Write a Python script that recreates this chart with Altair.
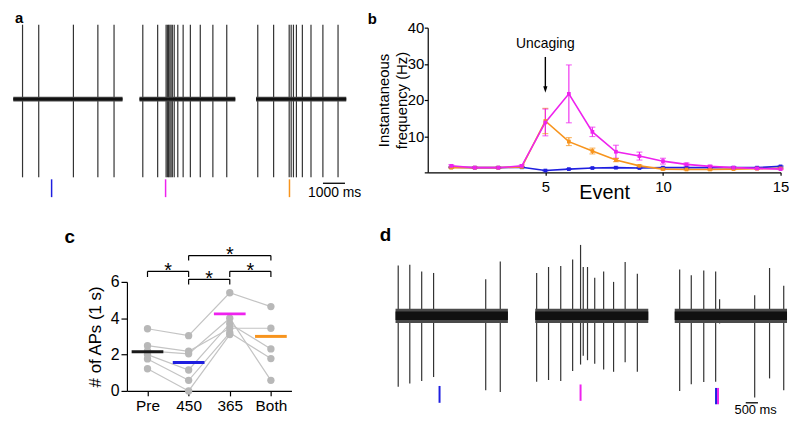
import altair as alt
import pandas as pd

FONT = "Liberation Sans"
BLUE = "#2233dd"
MAGENTA = "#ee22ee"
ORANGE = "#f39a3c"
TRACE = "#111111"
TRACE_EDGE = "#4a4a4a"
SPIKE = "#333333"
GRAY_DOT = "#b8b8b8"
GRAY_LINE = "#c4c4c4"

# ---------------- panel a : three sweeps (time ms, amplitude uV) ----------------
A_SWEEP_START = [240, 5970, 11263]
A_SWEEP_END = [5200, 10320, 15358]
A_SPIKES = [
    [660, 1395, 2970, 4080, 4815],
    [6120, 6795, 7178, 7236, 7290, 7349, 7403, 7461, 7547, 7709, 7952, 8280, 8730, 9302, 9932],
    [11340, 12060, 12767, 12857, 12960, 13095, 13365, 13757, 14297, 14985],
]
A_SPIKE_PEAK = 75
A_SPIKE_TROUGH = -79
A_NOISE_OUTER = [-2.6, 2.4]
A_NOISE_INNER = [-1.4, 1.2]
A_STIM_TIME = [1980, 7155, 12780]
A_STIM_COND = ["450", "365", "Both"]
A_STIM_TOP = [-81, -81, -81]
A_STIM_BOTTOM = [-99, -99, -99]
A_BAR = [14300, 15300]
A_BAR_LEVEL = -85
A_BAR_TEXT = "1000 ms"
A_BAR_TEXT_T = 14830
A_BAR_TEXT_LEVEL = -95
A_X_DOMAIN = [0, 16290]
A_Y_DOMAIN = [-74, 72]

# ---------------- panel b : instantaneous frequency ----------------
EVENTS = [1, 2, 3, 4, 5, 6, 7, 8, 9, 10, 11, 12, 13, 14, 15]
FREQ_365 = [1.8, 1.3, 1.3, 1.8, 13.8, 21.7, 11.2, 5.7, 4.5, 3.1, 2.2, 1.65, 1.3, 1.1, 0.9]
SEM_365 = [0.3, 0.15, 0.15, 0.3, 3.7, 8.0, 1.3, 1.8, 1.1, 0.8, 0.4, 0.3, 0.2, 0.2, 0.15]
FREQ_BOTH = [1.3, 1.3, 1.3, 1.5, 14.2, 8.5, 5.9, 3.4, 1.8, 0.9, 0.8, 0.8, 0.9, 1.0, 1.1]
SEM_BOTH = [0.15, 0.1, 0.1, 0.2, 3.5, 1.1, 0.8, 0.45, 0.25, 0.2, 0.15, 0.15, 0.15, 0.15, 0.15]
FREQ_450 = [1.4, 1.3, 1.3, 1.4, 0.5, 0.9, 1.2, 1.3, 1.2, 1.3, 1.3, 1.3, 1.3, 1.3, 1.65]
SEM_450 = [0.1, 0.1, 0.1, 0.1, 0.1, 0.1, 0.1, 0.1, 0.1, 0.1, 0.1, 0.1, 0.1, 0.1, 0.15]
ARROW_EVENT = 5
ARROW_FROM = 31.9
ARROW_HEAD = 22.9
ARROW_TEXT_LEVEL = 35.5
ARROW_TEXT = "Uncaging"
B_Y_TICKS = [0, 10, 20, 30, 40]
B_X_TICKS = [5, 10, 15]

# ---------------- panel c : # of APs ----------------
CONDITIONS = ["Pre", "450", "365", "Both"]
COND_COLORS = ["#1a1a1a", "#1f1fe0", "#ee22ee", "#f7941d"]
CELL_PRE = [3.42, 2.49, 2.2, 2.0, 1.76, 1.22]
CELL_450 = [3.04, 2.18, 2.04, 1.15, 0.58, 0.0]
CELL_365 = [5.4, 3.45, 4.0, 3.7, 3.2, 3.1]
CELL_BOTH = [4.64, 3.45, 0.58, 2.31, 1.78, None]
MEAN_APS = [2.16, 1.56, 4.24, 3.0]
BRACKET_LEFT = ["Pre", "450", "365", "450"]
BRACKET_RIGHT = ["450", "365", "Both", "Both"]
BRACKET_LEVEL = [6.58, 6.14, 6.58, 7.45]
BRACKET_DROP = [6.27, 5.85, 6.27, 7.18]
C_Y_TICKS = [0, 2, 4, 6]

# ---------------- panel d : three sweeps ----------------
D_SWEEP_START = [610, 6341, 12061]
D_SWEEP_END = [5219, 10976, 16667]
D_SPIKE_T = [720, 1195, 1683, 2171, 4309, 4906,
             6398, 6886, 7386, 7874, 8199, 8309, 8484, 8780, 9146, 9553, 10028, 10528,
             12264, 12740, 13252, 13740, 13902, 15341, 15951, 16532]
D_SPIKE_PEAK = [50.6, 51.3, 44.6, 43, 36.6, 54.6,
                43, 49, 50, 56.6, 71.3, 49, 49, 38.3, 44.6, 34, 54, 42.3,
                46.6, 40.6, 45.6, 44.6, 16.6, 20.6, 48, 30]
D_SPIKE_TROUGH = [-71.7, -68.4, -66, -62, -75.4, -77,
                  -66.7, -65, -66, -56, -49.4, -40.4, -45, -48.7, -54.4, -56.7, -47, -56.7,
                  -76, -69.4, -67, -66.7, -8, -82.7, -63.4, -75.4]
D_NOISE_OUTER = [-7.5, 7]
D_NOISE_INNER = [-4.5, 4]
D_STIM_TIME = [2415, 8199, 13756, 13837]
D_STIM_COND = ["450", "365", "450", "365"]
D_STIM_TOP = [-71, -69.5, -73, -73]
D_STIM_BOTTOM = [-88, -86, -89.5, -89.5]
D_BAR = [14975, 15475]
D_BAR_LEVEL = -88
D_BAR_TEXT = "500 ms"
D_BAR_TEXT_T = 15380
D_BAR_TEXT_LEVEL = -95.5
D_X_DOMAIN = [0, 16667]
D_Y_DOMAIN = [-76, 34]

cond_scale = alt.Scale(domain=CONDITIONS, range=COND_COLORS)


def letter(text, size, offset, dx, dy):
    return alt.TitleParams(text=text, anchor="start", frame="group", fontSize=size,
                           fontWeight="bold", baseline="alphabetic", offset=offset,
                           dx=dx, dy=dy, font=FONT, color="black")


def sweep_panel(starts, ends, spikes, noise_outer, noise_inner, stims, bar, bar_level, bar_text,
                bar_text_t, bar_text_level, xdom, ydom, width, height, stim_width, text_size, title):
    xs = alt.Scale(domain=xdom, nice=False, zero=False)
    ys = alt.Scale(domain=ydom, nice=False, zero=False)
    sweeps = pd.DataFrame({"start": starts, "end": ends,
                           "olo": noise_outer[0], "ohi": noise_outer[1],
                           "ilo": noise_inner[0], "ihi": noise_inner[1]})
    spike_layer = alt.Chart(spikes).mark_rule(color=SPIKE, strokeWidth=1.2).encode(
        x=alt.X("t:Q", scale=xs, axis=None),
        y=alt.Y("peak:Q", scale=ys, axis=None), y2="trough:Q")
    outer_layer = alt.Chart(sweeps).mark_rect(color=TRACE_EDGE).encode(
        x=alt.X("start:Q", scale=xs, axis=None), x2="end:Q",
        y=alt.Y("olo:Q", scale=ys, axis=None), y2="ohi:Q")
    inner_layer = alt.Chart(sweeps).mark_rect(color=TRACE).encode(
        x=alt.X("start:Q", scale=xs, axis=None), x2="end:Q",
        y=alt.Y("ilo:Q", scale=ys, axis=None), y2="ihi:Q")
    stim_layer = alt.Chart(stims).mark_rule(strokeWidth=stim_width).encode(
        x=alt.X("t:Q", scale=xs, axis=None),
        y=alt.Y("top:Q", scale=ys, axis=None), y2="bottom:Q",
        color=alt.Color("cond:N", scale=cond_scale, legend=None))
    bar_df = pd.DataFrame({"t0": [bar[0]], "t1": [bar[1]], "level": [bar_level],
                           "tt": [bar_text_t], "tl": [bar_text_level], "label": [bar_text]})
    bar_layer = alt.Chart(bar_df).mark_rule(color="black", strokeWidth=1.3).encode(
        x=alt.X("t0:Q", scale=xs, axis=None), x2="t1:Q",
        y=alt.Y("level:Q", scale=ys, axis=None))
    text_layer = alt.Chart(bar_df).mark_text(fontSize=text_size, baseline="middle", align="center",
                                             font=FONT, color="black").encode(
        x=alt.X("tt:Q", scale=xs, axis=None),
        y=alt.Y("tl:Q", scale=ys, axis=None), text="label:N")
    return alt.layer(spike_layer, outer_layer, inner_layer, stim_layer, bar_layer,
                     text_layer).properties(width=width, height=height, title=title)


# ---- panel a
a_spikes = pd.DataFrame({
    "t": [t for sw in A_SPIKES for t in sw],
    "peak": A_SPIKE_PEAK, "trough": A_SPIKE_TROUGH})
a_stims = pd.DataFrame({"t": A_STIM_TIME, "cond": A_STIM_COND, "top": A_STIM_TOP, "bottom": A_STIM_BOTTOM})
panel_a = sweep_panel(A_SWEEP_START, A_SWEEP_END, a_spikes, A_NOISE_OUTER, A_NOISE_INNER, a_stims,
                      A_BAR, A_BAR_LEVEL, A_BAR_TEXT, A_BAR_TEXT_T, A_BAR_TEXT_LEVEL,
                      A_X_DOMAIN, A_Y_DOMAIN, 362, 146, 1.5, 14, letter("a", 15, 2.4, 7, 16))

# ---- panel b
rows = []
for cond, fr, se in [("450", FREQ_450, SEM_450), ("Both", FREQ_BOTH, SEM_BOTH), ("365", FREQ_365, SEM_365)]:
    for e, f, s in zip(EVENTS, fr, se):
        rows.append({"event": e, "freq": f, "lo": f - s, "hi": f + s, "cond": cond})
b_df = pd.DataFrame(rows)

bx = alt.Scale(domain=[0, 15], nice=False, zero=False)
by = alt.Scale(domain=[0, 40], nice=False)
b_x_axis = alt.Axis(values=B_X_TICKS, title="Event", titleFontSize=20, titleFontWeight="normal",
                    labelFontSize=15, tickSize=3, labelPadding=4, titlePadding=-12, grid=False,
                    labelAngle=0, labelOverlap=False, labelFlush=False)
b_y_axis = alt.Axis(values=B_Y_TICKS, tickCount=5, labelExpr="datum.value == 0 ? '' : datum.label",
                    title=["Instantaneous", "frequency (Hz)"], titleFontSize=15, titleFontWeight="normal",
                    titleLineHeight=18, labelFontSize=15, tickSize=3.5, labelPadding=0.5,
                    titlePadding=-2, grid=False, labelOverlap=False, labelFlush=False,
                    labelBound=False)


def bX(field):
    return alt.X(field, type="quantitative", scale=bx, axis=b_x_axis)


def bY(field):
    return alt.Y(field, type="quantitative", scale=by, axis=b_y_axis)


bcolor = alt.Color("cond:N", scale=cond_scale, legend=None)
b_base = alt.Chart(b_df)
b_err = b_base.mark_rule(strokeWidth=1.1).encode(x=bX("event"), y=bY("lo"), y2="hi:Q", color=bcolor)
b_cap_lo = b_base.mark_tick(orient="horizontal", size=6, thickness=1.1).encode(
    x=bX("event"), y=bY("lo"), color=bcolor)
b_cap_hi = b_base.mark_tick(orient="horizontal", size=6, thickness=1.1).encode(
    x=bX("event"), y=bY("hi"), color=bcolor)
b_line = b_base.mark_line(strokeWidth=1.6).encode(x=bX("event"), y=bY("freq"), color=bcolor)
b_pts = b_base.mark_square(size=14, opacity=1).encode(x=bX("event"), y=bY("freq"), color=bcolor)

arrow_df = pd.DataFrame({"event": [ARROW_EVENT], "y0": [ARROW_FROM], "y1": [ARROW_HEAD],
                         "ty": [ARROW_TEXT_LEVEL], "label": [ARROW_TEXT]})
b_shaft = alt.Chart(arrow_df).mark_rule(color="black", strokeWidth=1.4).encode(
    x=bX("event"), y=bY("y0"), y2="y1:Q")
b_head = alt.Chart(arrow_df).mark_point(shape="M -0.32,-0.5 L 0.32,-0.5 L 0,0.5 Z", filled=True,
                                        size=169, color="black", opacity=1).encode(
    x=bX("event"), y=bY("y1"))
b_text = alt.Chart(arrow_df).mark_text(fontSize=14, baseline="middle", align="center",
                                       font=FONT, color="black").encode(
    x=bX("event"), y=bY("ty"), text="label:N")

panel_b = alt.layer(b_err, b_cap_lo, b_cap_hi, b_line, b_pts, b_shaft, b_head, b_text).properties(
    width=356, height=146, title=letter("b", 15, -1, -60.5, 17))

# ---- panel c
c_rows = []
for cond, vals in zip(CONDITIONS, [CELL_PRE, CELL_450, CELL_365, CELL_BOTH]):
    for i, v in enumerate(vals):
        if v is not None:
            c_rows.append({"cell": i, "pos": CONDITIONS.index(cond) + 0.5, "aps": v, "cond": cond})
c_df = pd.DataFrame(c_rows)
m_df = pd.DataFrame({"pos": [CONDITIONS.index(c) + 0.5 for c in CONDITIONS], "aps": MEAN_APS,
                     "cond": CONDITIONS})
br_df = pd.DataFrame({"x1": [CONDITIONS.index(c) + 0.5 for c in BRACKET_LEFT],
                      "x2": [CONDITIONS.index(c) + 0.5 for c in BRACKET_RIGHT],
                      "level": BRACKET_LEVEL, "drop": BRACKET_DROP})
ends_df = pd.concat([br_df[["x1", "level", "drop"]].rename(columns={"x1": "x"}),
                     br_df[["x2", "level", "drop"]].rename(columns={"x2": "x"})])

cx = alt.Scale(domain=[0, 4], nice=False, zero=False)
cy = alt.Scale(domain=[0, 6], nice=False)
c_x_axis = alt.Axis(values=[0.5, 1.5, 2.5, 3.5],
                    labelExpr="['Pre','450','365','Both'][floor(datum.value)]",
                    title=None, labelFontSize=15.5, tickSize=5, labelPadding=2.5, grid=False,
                    labelAngle=0, labelOverlap=False, labelFlush=False)
c_y_axis = alt.Axis(values=C_Y_TICKS, tickCount=4, title="# of APs (1 s)", titleFontSize=17,
                    titleFontWeight="normal", labelFontSize=16, tickSize=6, labelPadding=2,
                    titlePadding=6, grid=False, labelOverlap=False, labelFlush=False,
                    labelBound=False)


def cX(field):
    return alt.X(field, type="quantitative", scale=cx, axis=c_x_axis)


def cY(field):
    return alt.Y(field, type="quantitative", scale=cy, axis=c_y_axis)


c_lines = alt.Chart(c_df).mark_line(color=GRAY_LINE, strokeWidth=1.2).encode(
    x=cX("pos"), y=cY("aps"), detail="cell:N")
c_pts = alt.Chart(c_df).mark_circle(size=55, color=GRAY_DOT, opacity=1).encode(
    x=cX("pos"), y=cY("aps"))
c_means = alt.Chart(m_df).mark_tick(orient="horizontal", size=32, thickness=3, opacity=1).encode(
    x=cX("pos"), y=cY("aps"), color=alt.Color("cond:N", scale=cond_scale, legend=None))
c_br = alt.Chart(br_df).mark_rule(color="black", strokeWidth=1.2).encode(
    x=cX("x1"), x2="x2:Q", y=cY("level"))
c_ends = alt.Chart(ends_df).mark_rule(color="black", strokeWidth=1.2).encode(
    x=cX("x"), y=cY("level"), y2="drop:Q")
c_stars = alt.Chart(br_df).transform_calculate(mid="(datum.x1 + datum.x2) / 2").mark_text(
    text="*", fontSize=20, baseline="middle", align="center", font=FONT, color="black").encode(
    x=cX("mid"), y=cY("level"))

panel_c = alt.layer(c_lines, c_pts, c_means, c_br, c_ends, c_stars).properties(
    width=166, height=110, title=letter("c", 19, 3.9, -63, 20.7))

# ---- panel d
d_spikes = pd.DataFrame({"t": D_SPIKE_T, "peak": D_SPIKE_PEAK, "trough": D_SPIKE_TROUGH})
d_stims = pd.DataFrame({"t": D_STIM_TIME, "cond": D_STIM_COND, "top": D_STIM_TOP, "bottom": D_STIM_BOTTOM})
panel_d = sweep_panel(D_SWEEP_START, D_SWEEP_END, d_spikes, D_NOISE_OUTER, D_NOISE_INNER, d_stims,
                      D_BAR, D_BAR_LEVEL, D_BAR_TEXT, D_BAR_TEXT_T, D_BAR_TEXT_LEVEL,
                      D_X_DOMAIN, D_Y_DOMAIN, 410, 110, 2, 13, letter("d", 19, 3.4, -1, 18.7))

spacer = alt.Chart(pd.DataFrame({"x0": [0], "x1": [1]})).mark_rect(opacity=0).encode(
    x=alt.X("x0:Q", scale=alt.Scale(domain=[0, 1]), axis=None), x2="x1:Q").properties(
    width=29.3, height=110)

row1 = alt.hconcat(panel_a, panel_b, spacing=61.5, bounds="flush")
row2 = alt.hconcat(spacer, panel_c, panel_d, spacing=90, bounds="flush")

chart = alt.vconcat(row1, row2, spacing=23.5).properties(padding=0).configure(
    font=FONT).configure_view(strokeWidth=0).configure_axis(
    domainColor="black", tickColor="black", labelColor="black", titleColor="black",
    grid=False, domainWidth=1.2, tickWidth=1.2, labelFont=FONT, titleFont=FONT,
    labelOverlap=False)

chart.save("out.html", embed_options={"renderer": "svg", "actions": False})
